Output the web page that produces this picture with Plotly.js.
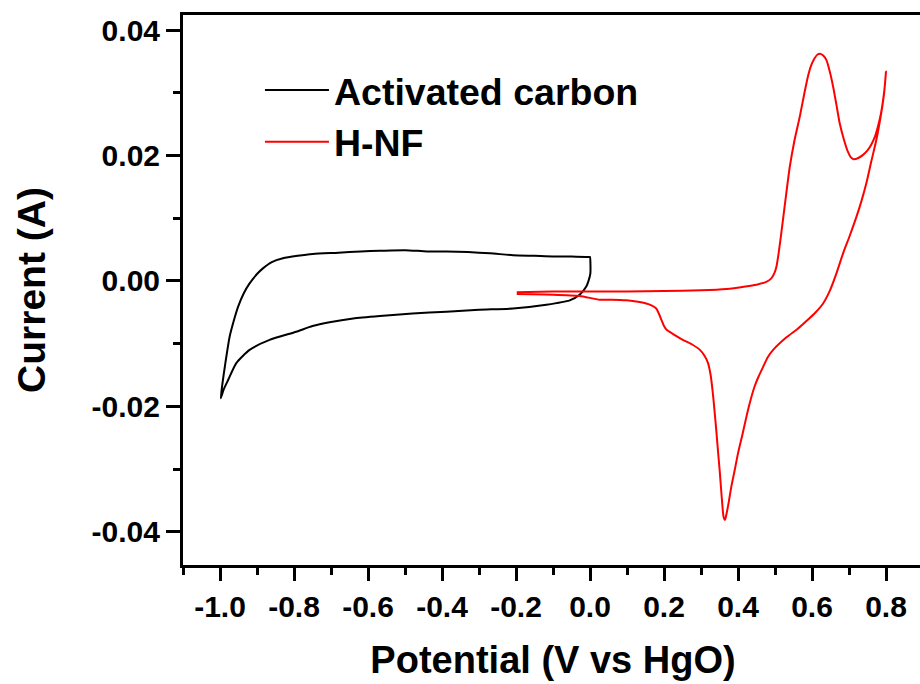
<!DOCTYPE html>
<html>
<head>
<meta charset="utf-8">
<script src="https://cdn.plot.ly/plotly-3.0.1.min.js"></script>
<style>
html,body{margin:0;padding:0;overflow:hidden;background:#fff;}
#chart{width:926px;height:684px;}
</style>
</head>
<body>
<div id="chart"></div>
<script>
// Activated carbon CV loop (potential V, current A)
const acPotential = [-0.998,-0.993,-0.987,-0.974,-0.962,-0.951,-0.936,-0.920,-0.900,-0.884,-0.860,-0.830,-0.790,-0.749,-0.680,-0.620,-0.568,-0.500,-0.440,-0.388,-0.330,-0.270,-0.208,-0.150,-0.100,-0.050,-0.001,
  0.000,0.001,-0.004,-0.010,-0.028,-0.055,-0.118,-0.208,-0.300,-0.388,-0.480,-0.568,-0.640,-0.704,-0.750,-0.794,-0.866,-0.920,-0.956,-0.978,-0.990,-0.998];
const acCurrent = [-0.0187,-0.0162,-0.0137,-0.0089,-0.0062,-0.0041,-0.0020,-0.0004,0.0011,0.0020,0.0030,0.0036,0.0040,0.0043,0.0045,0.0047,0.0048,0.0049,0.0047,0.0047,0.0046,0.0044,0.0041,0.0040,0.0039,0.0039,0.0038,
  0.0038,0.0012,0.0000,-0.0009,-0.0022,-0.0031,-0.0038,-0.0044,-0.0046,-0.0049,-0.0052,-0.0056,-0.0060,-0.0066,-0.0072,-0.0081,-0.0094,-0.0110,-0.0131,-0.0158,-0.0173,-0.0187];

// H-NF CV loop
const hnfPotential = [-0.198,-0.100,0.000,0.100,0.200,0.300,0.369,0.420,0.450,0.475,0.490,0.498,0.504,0.510,0.517,0.528,0.540,0.553,0.567,0.579,0.589,0.598,0.607,0.615,0.623,0.631,0.639,0.648,0.657,0.666,0.675,0.686,0.697,0.705,0.713,0.725,0.738,0.750,0.760,0.770,0.778,0.786,0.792,0.797,0.800,
  0.795,0.787,0.774,0.760,0.747,0.734,0.720,0.702,0.684,0.666,0.648,0.630,0.610,0.585,0.560,0.531,0.495,0.480,0.468,0.456,0.445,0.434,0.423,0.412,0.400,0.391,0.382,0.374,0.368,0.365,0.361,0.356,0.351,0.346,0.342,0.337,0.332,0.326,0.319,0.309,0.297,0.275,0.251,0.228,0.207,0.200,0.193,0.186,0.179,0.166,0.152,0.125,0.098,0.060,0.026,-0.028,-0.100,-0.198];
const hnfCurrent = [-0.0018,-0.0017,-0.0017,-0.0017,-0.0016,-0.0015,-0.0013,-0.0009,-0.0006,-0.0002,0.0004,0.0012,0.0023,0.0045,0.0076,0.0128,0.0182,0.0225,0.0262,0.0298,0.0326,0.0344,0.0355,0.0361,0.0362,0.0359,0.0352,0.0334,0.0310,0.0281,0.0251,0.0226,0.0206,0.0197,0.0194,0.0196,0.0201,0.0208,0.0217,0.0230,0.0246,0.0266,0.0288,0.0312,0.0334,
  0.0300,0.0267,0.0225,0.0190,0.0156,0.0128,0.0102,0.0072,0.0044,0.0012,-0.0016,-0.0036,-0.0050,-0.0064,-0.0077,-0.0090,-0.0110,-0.0122,-0.0137,-0.0152,-0.0168,-0.0190,-0.0216,-0.0245,-0.0275,-0.0302,-0.0328,-0.0356,-0.0374,-0.0381,-0.0376,-0.0345,-0.0306,-0.0272,-0.0243,-0.0210,-0.0179,-0.0150,-0.0131,-0.0119,-0.0110,-0.0101,-0.0094,-0.0086,-0.0078,-0.0072,-0.0062,-0.0052,-0.0044,-0.0039,-0.0036,-0.0033,-0.0031,-0.0030,-0.0030,-0.0024,-0.0022,-0.0021];

const xTickVals = [-1.0,-0.8,-0.6,-0.4,-0.2,0.0,0.2,0.4,0.6,0.8];
const xTickText = ["-1.0","-0.8","-0.6","-0.4","-0.2","0.0","0.2","0.4","0.6","0.8"];
const xMinorVals = [-1.1,-0.9,-0.7,-0.5,-0.3,-0.1,0.1,0.3,0.5,0.7,0.9];
const yTickVals = [-0.04,-0.02,0.00,0.02,0.04];
const yTickText = ["-0.04","-0.02","0.00","0.02","0.04"];
const yMinorVals = [-0.03,-0.01,0.01,0.03];

const FONT = "Liberation Sans, Arial, Helvetica, sans-serif";

const traces = [
  {x: acPotential, y: acCurrent, type: 'scatter', mode: 'lines', name: 'Activated carbon',
   line: {color: '#000000', width: 2, shape: 'spline', smoothing: 0.6}},
  {x: hnfPotential, y: hnfCurrent, type: 'scatter', mode: 'lines', name: 'H-NF',
   line: {color: '#ff0000', width: 2, shape: 'spline', smoothing: 0.6}}
];

const axisCommon = {
  showline: true, linecolor: '#000', linewidth: 3, mirror: true,
  ticks: 'outside', tickcolor: '#000', tickwidth: 3,
  showgrid: false, zeroline: false, tickmode: 'array',
  tickfont: {family: FONT, size: 30, color: '#000', weight: 'bold'}
};

const layout = {
  width: 926, height: 684,
  margin: {l: 183, r: 3, t: 15, b: 119},
  paper_bgcolor: '#fff', plot_bgcolor: '#fff',
  showlegend: true,
  legend: {x: 0.104, y: 0.920, xanchor: 'left', yanchor: 'top', bgcolor: 'rgba(0,0,0,0)',
           font: {family: FONT, size: 37.5, color: '#000', weight: 'bold'}, itemwidth: 64,
           tracegroupgap: 0},
  xaxis: Object.assign({}, axisCommon, {
    range: [-1.1, 0.9], tickvals: xTickVals, ticktext: xTickText, ticklen: 13,
    minor: {tickvals: xMinorVals, ticks: 'outside', ticklen: 7, tickwidth: 3, tickcolor: '#000', showgrid: false},
    title: {text: 'Potential (V vs HgO)', standoff: 25, font: {family: FONT, size: 38, color: '#000', weight: 'bold'}}
  }),
  yaxis: Object.assign({}, axisCommon, {
    range: [-0.0453, 0.0424], tickvals: yTickVals, ticktext: yTickText, ticklen: 14,
    minor: {tickvals: yMinorVals, ticks: 'outside', ticklen: 7, tickwidth: 3, tickcolor: '#000', showgrid: false},
    title: {text: 'Current (A)', standoff: 34, font: {family: FONT, size: 39, color: '#000', weight: 'bold'}}
  })
};

Plotly.newPlot('chart', traces, layout, {displayModeBar: false, staticPlot: true});
</script>
</body>
</html>
